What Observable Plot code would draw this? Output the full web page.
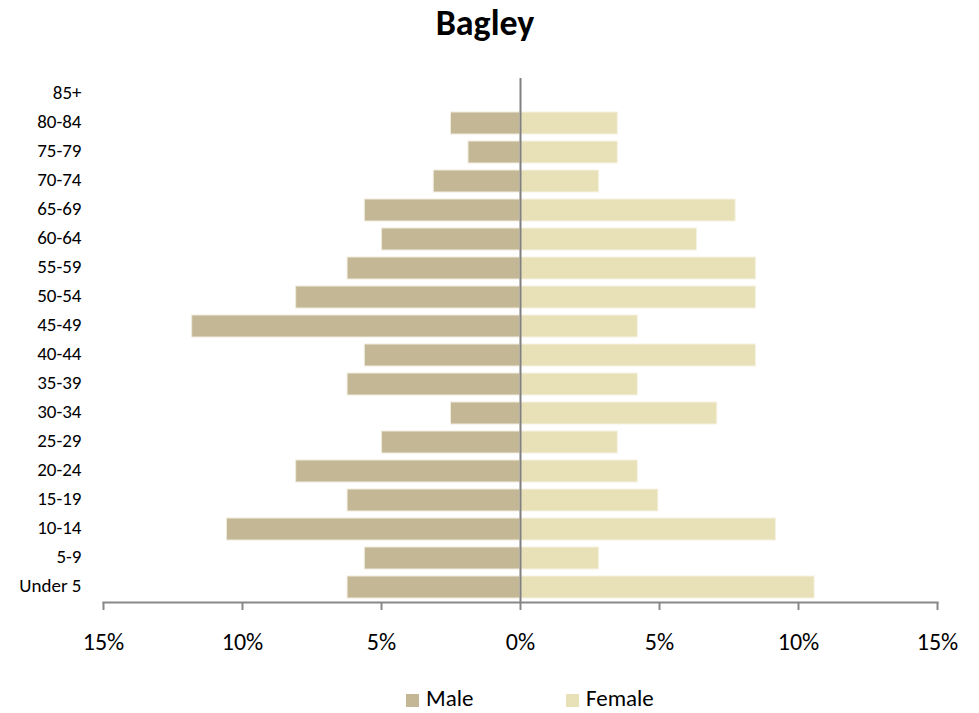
<!DOCTYPE html>
<html>
<head>
<meta charset="utf-8">
<script src="https://cdn.jsdelivr.net/npm/d3@7"></script>
<script src="https://cdn.jsdelivr.net/npm/@observablehq/plot@0.6"></script>
<style>
  html, body { margin: 0; padding: 0; background: #fff; }
  body { width: 979px; height: 713px; position: relative; font-family: Carlito, Lato, sans-serif; overflow: hidden; }
  #title { position: absolute; left: 0; top: 0; width: 979px; height: 58px; text-align: center; }
  #title span { position: absolute; left: 485px; top: 5px; transform: translateX(-50%); font-size: 36px; font-weight: bold; line-height: 36px; white-space: nowrap; }
  #chart { position: absolute; left: 0; top: 58px; }
  .leg { position: absolute; top: 687px; font-size: 23px; line-height: 23px; display: flex; align-items: flex-end; white-space: nowrap; }
  .sw { display: inline-block; width: 13px; height: 13px; margin-right: 7px; margin-bottom: 3px; }
</style>
</head>
<body>
<div id="title"><span>Bagley</span></div>
<div id="chart"></div>
<div class="leg" style="left:406px"><span class="sw" style="background:#C4B795"></span>Male</div>
<div class="leg" style="left:566px"><span class="sw" style="background:#E8E1B8"></span>Female</div>
<script>
const ages = ["Under 5","5-9","10-14","15-19","20-24","25-29","30-34","35-39","40-44","45-49","50-54","55-59","60-64","65-69","70-74","75-79","80-84","85+"];
const male = [6.22,5.60,10.56,6.22,8.07,4.98,2.50,6.22,5.60,11.81,8.07,6.22,4.98,5.60,3.12,1.87,2.50,0];
const female = [10.58,2.83,9.19,4.96,4.22,3.50,7.08,4.22,8.47,4.22,8.47,8.47,6.35,7.74,2.83,3.50,3.50,0];
const xTicks = [-15,-10,-5,0,5,10,15];
const maleColor = "#C4B795";
const femaleColor = "#E8E1B8";

const rows = ages.map((a, i) => ({age: a, male: male[i], female: female[i]}));

const chart = Plot.plot({
  width: 979,
  height: 610,
  marginTop: 20,
  marginBottom: 66,
  marginLeft: 103,
  marginRight: 42,
  style: {fontFamily: "Carlito, Lato, sans-serif", background: "white"},
  x: {domain: [-15, 15]},
  y: {domain: ages.slice().reverse(), paddingInner: 0.25, paddingOuter: 0.125, align: 0.5},
  marks: [
    Plot.barX(rows, {y: "age", x1: 0, x2: d => -d.male, fill: maleColor, stroke: "#EFEBDD", strokeWidth: 1}),
    Plot.barX(rows, {y: "age", x1: 0, x2: d => d.female, fill: femaleColor, stroke: "#F5F2E2", strokeWidth: 1}),
    Plot.ruleX([0], {stroke: "#808080", strokeWidth: 2}),
    Plot.frame({anchor: "bottom", stroke: "#888888", strokeWidth: 2}),
    Plot.axisY({tickSize: 0, tickPadding: 22, fontSize: 19, fill: "black", label: null, dy: -2}),
    Plot.axisX({ticks: xTicks, tickSize: 8, tickPadding: 22, stroke: "#888888", strokeWidth: 2, fill: "black", fontSize: 24, label: null,
      tickFormat: d => Math.abs(d) + "%"})
  ]
});
document.getElementById("chart").appendChild(chart);
</script>
</body>
</html>
